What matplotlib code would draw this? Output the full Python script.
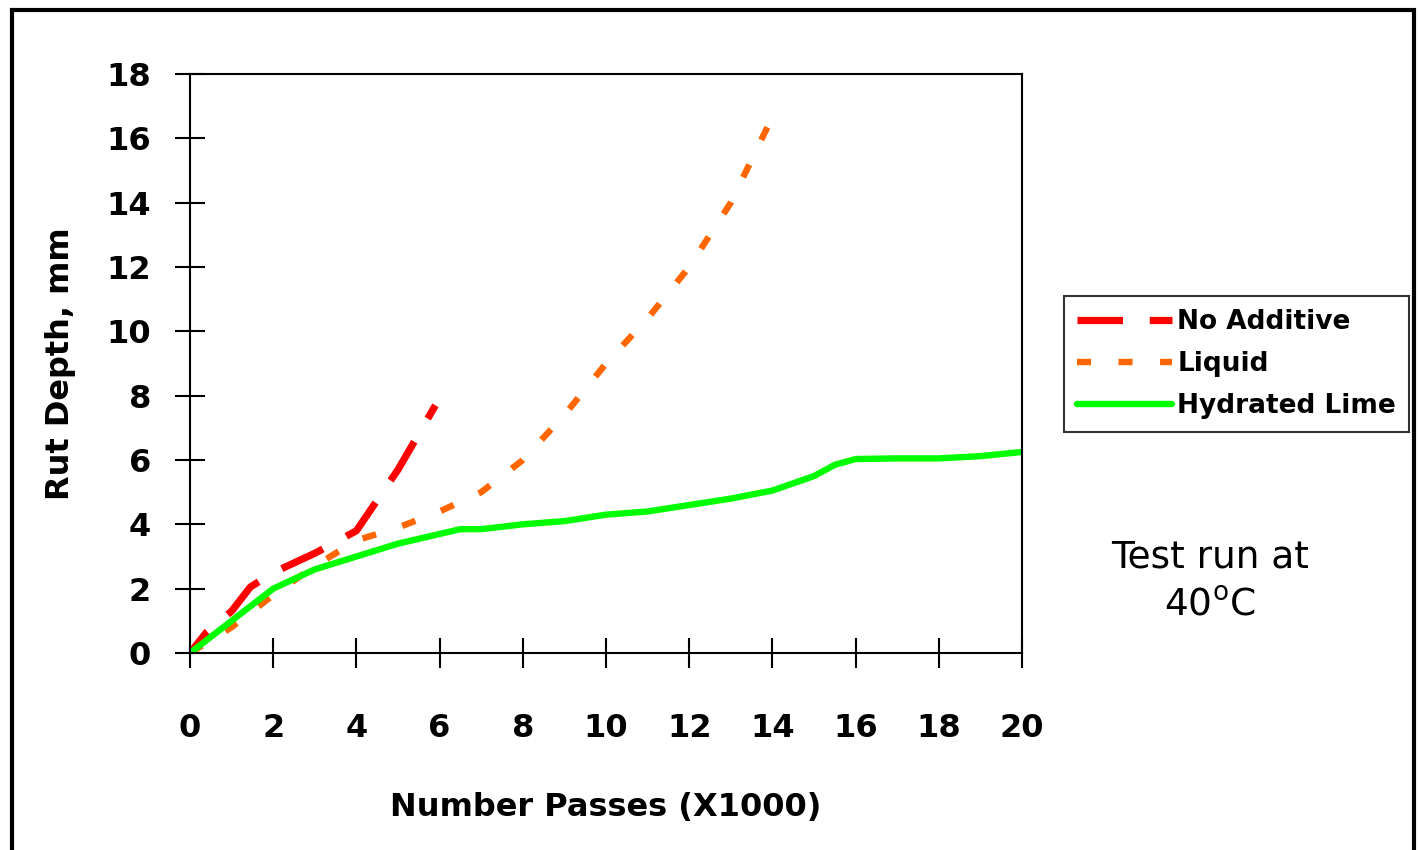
import matplotlib
matplotlib.use("Agg")
import matplotlib.pyplot as plt
from matplotlib.patches import Rectangle

# rut depth (mm) vs number of passes (x1000)
no_add_x = [0, 0.4, 1.0, 1.45, 2.0, 3.0, 4.0, 5.0, 5.9]
no_add_y = [0, 0.65, 1.3, 2.05, 2.5, 3.1, 3.8, 5.7, 7.7]

liquid_x = [0, 1, 2, 3, 4, 5, 6, 7, 8, 9, 10, 11, 12, 13, 13.9]
liquid_y = [0, 0.8, 1.8, 2.7, 3.5, 3.9, 4.4, 5.0, 6.0, 7.4, 9.0, 10.4, 12.0, 14.0, 16.4]

lime_x = [0, 1, 2, 3, 4, 5, 6, 6.5, 7, 8, 9, 10, 11, 12, 13, 14, 15, 15.5, 16, 17, 18, 19, 20]
lime_y = [0, 1.0, 2.0, 2.6, 3.0, 3.4, 3.7, 3.85, 3.85, 4.0, 4.1, 4.3, 4.4, 4.6, 4.8, 5.05,
          5.5, 5.85, 6.03, 6.05, 6.05, 6.12, 6.25]

x_ticks = list(range(0, 21, 2))
y_ticks = list(range(0, 19, 2))

plt.rcParams['font.family'] = ['DejaVu Sans']

fig = plt.figure(figsize=(14.18, 8.5), dpi=100)
ax = fig.add_axes([190 / 1418, 197 / 850, 832 / 1418, 579 / 850])

ax.plot(no_add_x, no_add_y, color="#ff0000", lw=5.2, linestyle=(2.5, (6.3, 3.7)), label="No Additive")
ax.plot(liquid_x, liquid_y, color="#ff6600", lw=4.6, dashes=(2.2, 4.3), label="Liquid")
ax.plot(lime_x, lime_y, color="#00ff00", lw=4.6, solid_capstyle="round", label="Hydrated Lime")

ax.set_xlim(0, 20)
ax.set_ylim(0, 18)
ax.set_xticks(x_ticks)
ax.set_yticks(y_ticks)
for s in ax.spines.values():
    s.set_linewidth(1.5)
ax.tick_params(direction="inout", length=22, width=1.5, labelsize=23)
ax.tick_params(axis="x", pad=32)
ax.tick_params(axis="y", pad=17)
for lab in ax.get_xticklabels() + ax.get_yticklabels():
    lab.set_fontweight("bold")

ax.set_xlabel("Number Passes (X1000)", fontsize=23, fontweight="bold", labelpad=34.5)
ax.set_ylabel("Rut Depth, mm", fontsize=23, fontweight="bold", labelpad=22)

leg = ax.legend(loc="upper left", bbox_to_anchor=(1064 / 1418, 554 / 850),
                bbox_transform=fig.transFigure, frameon=True, fancybox=False,
                prop={"size": 19, "weight": "bold"}, handlelength=3.6,
                handletextpad=0.2, borderpad=0.5, labelspacing=0.6, borderaxespad=0)
leg.get_frame().set_edgecolor("black")
leg.get_frame().set_linewidth(1.5)
# legend sample for the red line starts with a long dash
leg.get_lines()[0].set_linestyle((0, (6.3, 3.7)))

fig.text(1210 / 1418, 292 / 850, "Test run at", fontsize=27, ha="center", va="center")
fig.text(1210 / 1418, 245 / 850, r"40$^{\mathrm{o}}$C", fontsize=27, ha="center", va="center")

fig.patches.append(Rectangle((12 / 1418, -0.05), 1402 / 1418, 1.05 - 10 / 850,
                             transform=fig.transFigure, fill=False, lw=3, edgecolor="black"))

fig.savefig("out.png", dpi=100)
